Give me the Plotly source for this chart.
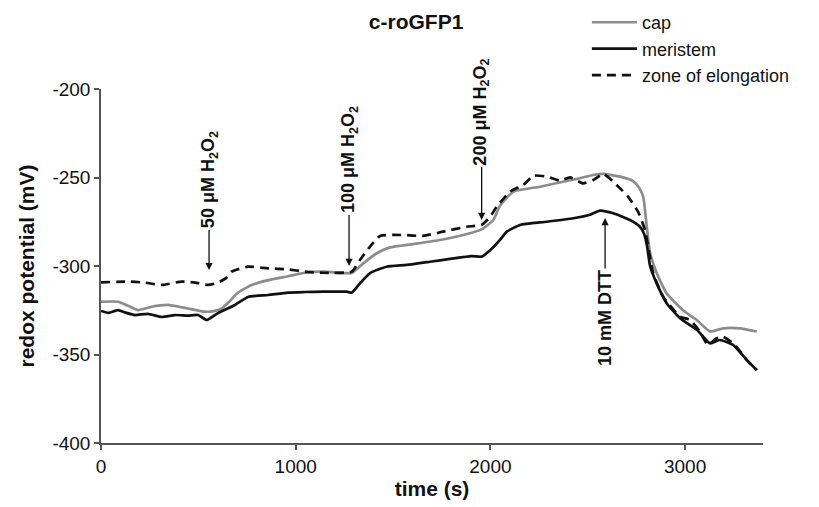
import plotly.graph_objects as go

# ---- data ----
cap_t = [0, 87, 140, 190, 260, 344, 400, 447, 534, 580, 620, 660, 704, 774, 858, 960, 1048, 1140, 1250, 1288,
         1347, 1416, 1484, 1604, 1741, 1860, 1955, 2015, 2049, 2118, 2255, 2373, 2460, 2528, 2580, 2666, 2733,
         2765, 2785, 2803, 2820, 2854, 2905, 2989, 3060, 3128, 3195, 3282, 3368]
cap_v = [-320.2, -320.2, -322.5, -324.9, -323, -322, -323, -324, -325.8, -325.5, -324, -320, -315, -310.7, -308,
         -305.8, -303.8, -303.2, -304, -304, -298.5, -292.8, -289.5, -287.6, -285.3, -282.5, -279.3, -274, -266,
         -258, -255.2, -252.4, -250.4, -248.6, -248, -249.5, -252, -256, -261, -277.8, -292.7, -304, -315.4, -325,
         -330.5, -337, -335.2, -335.2, -337]

mer_t = [0, 40, 87, 130, 175, 241, 313, 380, 447, 498, 544, 601, 688, 755, 858, 960, 1048, 1140, 1262, 1288,
         1330, 1382, 1467, 1570, 1690, 1793, 1904, 1955, 2000, 2049, 2084, 2152, 2289, 2426, 2512, 2563, 2631,
         2717, 2768, 2790, 2805, 2820, 2854, 2905, 2974, 3060, 3128, 3179, 3246, 3316, 3368]
mer_v = [-325.4, -326.5, -324.9, -326.5, -327.7, -327, -328.8, -327.7, -328, -327.7, -330.5, -326.6, -322,
         -317.5, -316.4, -315, -314.7, -314.5, -314.5, -315, -309.8, -304, -300.4, -299.4, -297.6, -296, -294.4,
         -294.7, -291, -285.3, -280.6, -276.8, -275, -273, -271, -268.7, -270.2, -274, -277.8, -282, -289, -300,
         -309.8, -321, -329.5, -336, -343.7, -341.8, -344.6, -353, -358.8]

elo_t = [0, 139, 226, 312, 414, 483, 550, 601, 640, 671, 755, 858, 960, 1048, 1140, 1288, 1330, 1382, 1433,
         1551, 1654, 1757, 1878, 1955, 2000, 2032, 2101, 2169, 2221, 2289, 2358, 2409, 2476, 2528, 2580, 2648,
         2707, 2758, 2794, 2836, 2887, 2974, 3025, 3076, 3117, 3160, 3195, 3256, 3316, 3368]
elo_v = [-309.2, -308.8, -309.4, -310.7, -308.8, -309.4, -310.7, -309.4, -307, -303.2, -300.4, -301.3, -301.9,
         -303.2, -303.8, -303.2, -296.6, -289, -283, -282.5, -283, -280.6, -277.8, -276.8, -272, -266.5, -258,
         -254.2, -249, -249.5, -251.8, -249.9, -253.3, -251.4, -248, -254.2, -260.8, -269.3, -279.7, -304, -317.3,
         -328.6, -330.5, -337, -344.6, -341, -340, -344.6, -353, -358.8]

x_ticks = [0, 1000, 2000, 3000]
x_ticktext = ["0", "1000", "2000", "3000"]
y_ticks = [-400, -350, -300, -250, -200]
y_ticktext = ["-400", "-350", "-300", "-250", "-200"]

events_text = ["50 μM H<sub>2</sub>O<sub>2</sub>", "100 μM H<sub>2</sub>O<sub>2</sub>",
               "200 μM H<sub>2</sub>O<sub>2</sub>", "10 mM DTT"]
events_t = [555, 1274, 1955, 2589]
events_v = [-302.3, -300, -274, -272.9]
events_offset = [-90, -106, -108, 100]

FONT = "Liberation Sans, Arial, sans-serif"

fig = go.Figure()
fig.add_trace(go.Scatter(x=cap_t, y=cap_v, mode="lines", name="cap",
                         line=dict(color="#8c8c8c", width=2.7, shape="spline", smoothing=0.5)))
fig.add_trace(go.Scatter(x=mer_t, y=mer_v, mode="lines", name="meristem",
                         line=dict(color="#111111", width=2.7, shape="spline", smoothing=0.5)))
fig.add_trace(go.Scatter(x=elo_t, y=elo_v, mode="lines", name="zone of elongation",
                         line=dict(color="#111111", width=2.7, dash="9px,6px", shape="spline", smoothing=0.5)))

for txt, t, v, off in zip(events_text, events_t, events_v, events_offset):
    fig.add_annotation(x=t, y=v, text="<b>" + txt + "</b>", textangle=-90, showarrow=True,
                       ax=0, ay=off, arrowhead=2, arrowsize=1.1, arrowwidth=1.3, arrowcolor="#111111",
                       font=dict(family=FONT, size=18, color="#111111"))

fig.update_layout(
    width=819, height=507,
    margin=dict(l=101, r=56, t=89, b=64, autoexpand=False),
    paper_bgcolor="white", plot_bgcolor="white",
    font=dict(family=FONT, size=19, color="#111111"),
    title=dict(text="<b>c-roGFP1</b>", x=0.476, xref="paper", y=1 - 22 / 507, yanchor="middle",
               font=dict(family=FONT, size=21, color="#111111")),
    legend=dict(x=0.734, y=1.24, xanchor="left", yanchor="top", bgcolor="rgba(0,0,0,0)",
                itemwidth=45, font=dict(family=FONT, size=18, color="#111111"), tracegroupgap=0),
    xaxis=dict(range=[0, 3400], tickvals=x_ticks, ticktext=x_ticktext, showgrid=False, zeroline=False,
               showline=True, linecolor="#555555", linewidth=1.5, ticks="outside", ticklen=5,
               tickcolor="#555555", tickwidth=1.5, tickfont=dict(size=19),
               title=dict(text="<b>time (s)</b>", font=dict(size=21), standoff=4)),
    yaxis=dict(range=[-400, -200], tickvals=y_ticks, ticktext=y_ticktext, showgrid=False, zeroline=False,
               showline=True, linecolor="#555555", linewidth=1.5, ticks="outside", ticklen=5,
               tickcolor="#555555", tickwidth=1.5, tickfont=dict(size=19),
               title=dict(text="<b>redox potential (mV)</b>", font=dict(size=21), standoff=12)),
)

fig.write_html("out.html", config={"displayModeBar": False},
               post_script="document.body.style.margin='0';document.body.style.padding='0';")
